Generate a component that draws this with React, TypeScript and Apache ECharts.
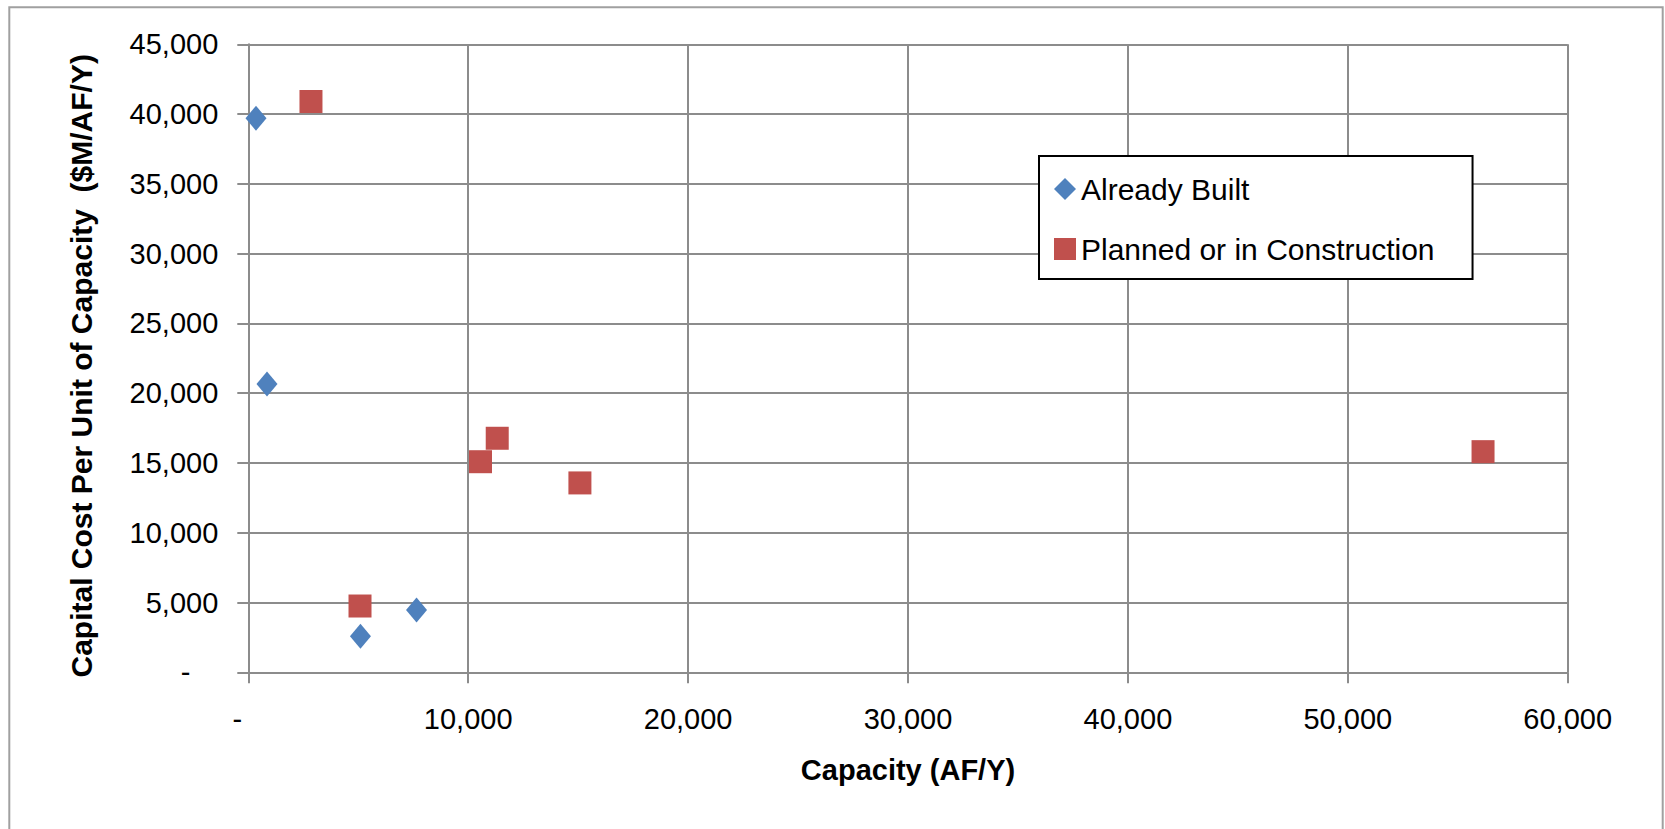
import React, { useEffect, useRef } from "react";
import * as echarts from "echarts";

const seriesNames = ["Already Built", "Planned or in Construction"];
const builtCapacity = [350, 850, 5100, 7650];
const builtCost = [39700, 20650, 2580, 4460];
const plannedCapacity = [2850, 5080, 10560, 11320, 15080, 56150];
const plannedCost = [40900, 4750, 15090, 16770, 13570, 15810];
const xTitle = "Capacity (AF/Y)";
const yTitle = "Capital Cost Per Unit of Capacity  ($M/AF/Y)";

const FONT = "'Liberation Sans', Arial, sans-serif";
const GRID = "#8c8c8c";

const fmt = (v: number) => Math.round(v).toLocaleString("en-US");

export default function App() {
  const ref = useRef<HTMLDivElement>(null);
  useEffect(() => {
    if (!ref.current) return;
    const chart = echarts.init(ref.current, undefined, { renderer: "svg" });
    const pairs = (xs: number[], ys: number[]) => xs.map((x, i) => [x, ys[i]]);
    chart.setOption({
      animation: false,
      backgroundColor: "#fff",
      textStyle: { fontFamily: FONT },
      grid: { left: 248.3, top: 44.3, right: 97.3, bottom: 156.7, containLabel: false },
      graphic: [
        {
          type: "rect",
          shape: { x: 9.3, y: 7.3, width: 1653.4, height: 900 },
          style: { fill: "none", stroke: "#a0a0a0", lineWidth: 2 },
          silent: true,
        },
      ],
      legend: {
        orient: "vertical",
        left: 1039,
        top: 156,
        padding: [18, 38, 15, 15],
        itemGap: 30,
        itemWidth: 22,
        itemHeight: 22,
        backgroundColor: "#fff",
        borderColor: "#000",
        borderWidth: 2,
        itemStyle: { opacity: 1 },
        textStyle: { fontFamily: FONT, fontSize: 30, color: "#000", lineHeight: 30 },
        data: [
          { name: seriesNames[0], icon: "diamond" },
          { name: seriesNames[1], icon: "rect" },
        ],
      },
      xAxis: {
        type: "value",
        min: 0,
        max: 60000,
        interval: 10000,
        name: xTitle,
        nameLocation: "middle",
        nameGap: 83,
        nameTextStyle: { fontFamily: FONT, fontSize: 29, fontWeight: "bold", color: "#000" },
        axisLine: { show: true, lineStyle: { color: GRID, width: 2 } },
        axisTick: { show: true, length: 11, lineStyle: { color: GRID, width: 2 } },
        splitLine: { show: true, lineStyle: { color: GRID, width: 2 } },
        axisLabel: {
          fontFamily: FONT,
          fontSize: 29,
          color: "#000",
          margin: 32,
          formatter: (v: number) => (v === 0 ? "{d|-}" : fmt(v)),
          rich: { d: { fontFamily: FONT, fontSize: 29, color: "#000", padding: [0, 22, 0, 0] } },
        },
      },
      yAxis: {
        type: "value",
        min: 0,
        max: 45000,
        interval: 5000,
        name: yTitle,
        nameLocation: "middle",
        nameGap: 152,
        nameTextStyle: {
          fontFamily: FONT,
          fontSize: 30,
          fontWeight: "bold",
          color: "#000",
          padding: [0, 15, 0, 0],
        },
        axisLine: { show: true, lineStyle: { color: GRID, width: 2 } },
        axisTick: { show: true, length: 11, lineStyle: { color: GRID, width: 2 } },
        splitLine: { show: true, lineStyle: { color: GRID, width: 2 } },
        axisLabel: {
          fontFamily: FONT,
          fontSize: 29,
          color: "#000",
          margin: 30,
          formatter: (v: number) => (v === 0 ? "{d|-}" : fmt(v)),
          rich: { d: { fontFamily: FONT, fontSize: 29, color: "#000", padding: [0, 28, 0, 0] } },
        },
      },
      series: [
        {
          name: seriesNames[0],
          type: "scatter",
          symbol: "diamond",
          symbolSize: [21, 25],
          itemStyle: { color: "#4F81BD", opacity: 1 },
          data: pairs(builtCapacity, builtCost),
          z: 3,
        },
        {
          name: seriesNames[1],
          type: "scatter",
          symbol: "rect",
          symbolSize: 23,
          itemStyle: { color: "#C0504D", opacity: 1 },
          data: pairs(plannedCapacity, plannedCost),
          z: 2,
        },
      ],
    });
    return () => chart.dispose();
  }, []);
  return (
    <div
      ref={ref}
      style={{ position: "fixed", left: 0, top: 0, width: 1665, height: 829 }}
    />
  );
}
